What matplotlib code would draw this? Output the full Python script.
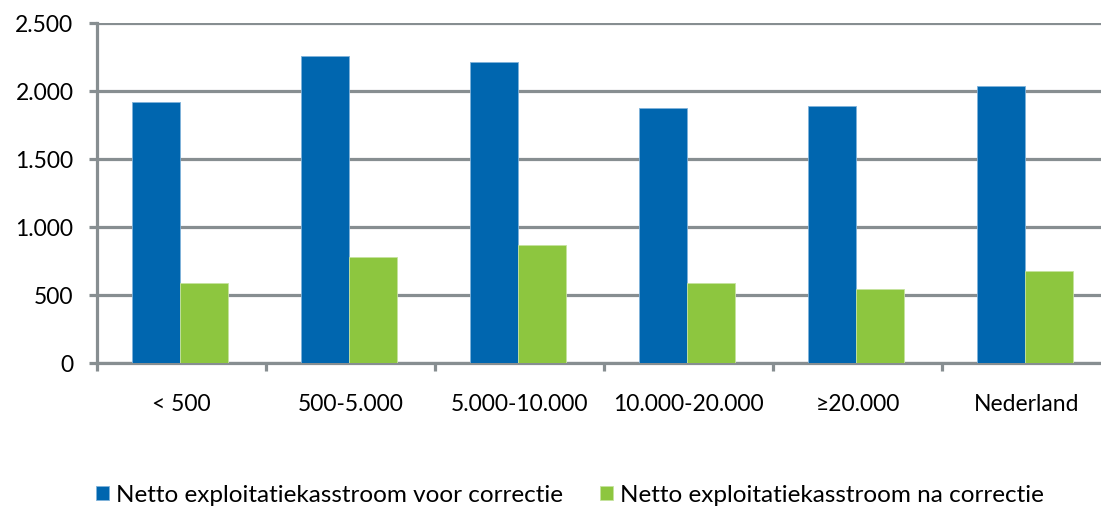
import matplotlib
matplotlib.use("Agg")
import matplotlib.pyplot as plt
import numpy as np

plt.rcParams['font.family'] = ['Lato', 'DejaVu Sans']

categories = ["< 500", "500-5.000", "5.000-10.000", "10.000-20.000", "\u226520.000", "Nederland"]
voor = [1920, 2262, 2215, 1875, 1890, 2038]   # voor correctie
na = [592, 784, 872, 592, 548, 681]           # na correctie
yticks = [0, 500, 1000, 1500, 2000, 2500]
ytick_labels = ["0", "500", "1.000", "1.500", "2.000", "2.500"]

blue = "#0066AF"
green = "#8DC63F"
grey = "#878E91"

fig = plt.figure(figsize=(11.01, 5.11), dpi=100)
ax = fig.add_axes([97/1101, 148/511, 1014/1101, 339.5/511])

x = np.arange(len(categories))
w = 0.283
ax.bar(x - w/2 - 0.01, voor, w, color=blue, edgecolor="#7FB2DA", linewidth=0.6,
       label="Netto exploitatiekasstroom voor correctie", zorder=3)
ax.bar(x + w/2 - 0.01, na, w, color=green, edgecolor="#C6E39F", linewidth=0.6,
       label="Netto exploitatiekasstroom na correctie", zorder=3)

ax.set_xlim(-0.5, len(categories) - 0.5)
ax.set_ylim(0, 2500)
ax.set_yticks(yticks)
ax.set_yticklabels(ytick_labels)
ax.yaxis.grid(True, color=grey, linewidth=2.3, zorder=0)
ax.set_axisbelow(True)

# boundary ticks (major), labels at centres (minor)
ax.set_xticks(np.arange(len(categories) + 1) - 0.5)
ax.set_xticklabels([])
ax.set_xticks(x, minor=True)
ax.set_xticklabels(categories, minor=True)
ax.tick_params(axis='x', which='major', length=6, width=2.3, color=grey, direction='out')
ax.tick_params(axis='x', which='minor', length=0, pad=22, labelsize=16.5)
ax.tick_params(axis='y', length=6, width=2.3, color=grey, pad=11, labelsize=16.5)

for s in ["top", "right"]:
    ax.spines[s].set_visible(False)
for s in ["left", "bottom"]:
    ax.spines[s].set_color(grey)
    ax.spines[s].set_linewidth(2.3)

fig.legend(loc="center", bbox_to_anchor=(570/1101, 1 - 495/511), ncol=2, frameon=False,
           fontsize=17.5, handlelength=0.55, handleheight=0.55, handletextpad=0.3,
           columnspacing=1.5)

fig.savefig("out.png", dpi=100)
